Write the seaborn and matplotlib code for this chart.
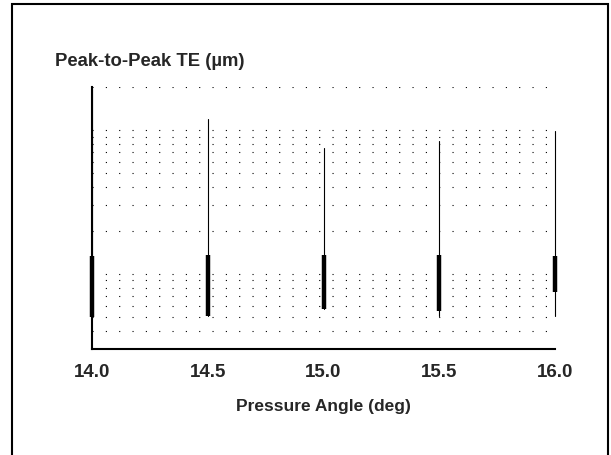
import numpy as np
import pandas as pd
import seaborn as sns
import matplotlib.pyplot as plt
from matplotlib.patches import Rectangle

# Peak-to-peak TE range per pressure angle (log axis)
angles = [14.0, 14.5, 15.0, 15.5, 16.0]
te_min = [0.50, 0.51, 0.57, 0.51, 0.51]
te_max = [19.5, 12.0, 7.5, 8.4, 9.9]
te_box_low = [0.50, 0.51, 0.57, 0.55, 0.75]
te_box_high = [1.33, 1.35, 1.35, 1.35, 1.33]
tick_labels = ["14.0", "14.5", "15.0", "15.5", "16.0"]

sns.set_style("white")
plt.rcParams['font.family'] = ['Liberation Sans', 'DejaVu Sans']

# long-form tables: one row per end of each vertical segment
full_range = pd.DataFrame({
    'angle': angles * 2,
    'te': te_min + te_max,
})
box_range = pd.DataFrame({
    'angle': angles * 2,
    'te': te_box_low + te_box_high,
})

fig = plt.figure(figsize=(6.11, 4.56), dpi=100)
ax = fig.add_axes([92 / 611, 1 - 350 / 456, 463 / 611, 262 / 456])

ax.set_yscale('log')
sns.lineplot(data=full_range, x='angle', y='te', units='angle', estimator=None,
             color='black', lw=0.8, sort=False, ax=ax, legend=False,
             clip_on=False)
sns.lineplot(data=box_range, x='angle', y='te', units='angle', estimator=None,
             color='black', lw=3.2, sort=False, ax=ax, legend=False,
             solid_capstyle='butt', clip_on=False)

ax.set_xlim(14.0, 16.0)
ax.set_ylim(0.3, 20)
ax.set_xticks(angles)
ax.set_xticklabels(tick_labels, fontsize=13.5, fontweight='bold')
ax.tick_params(axis='x', length=0, pad=10)
ax.tick_params(axis='y', which='both', length=0, labelleft=False)
ax.grid(axis='y', which='both', ls=(0, (1, 11)), color='black', lw=0.8)
ax.grid(axis='x', visible=False)
ax.set_ylabel('')
ax.set_xlabel('Pressure Angle (deg)', fontsize=12.5, fontweight='bold', labelpad=13)

sns.despine(ax=ax)
for side in ['left', 'bottom']:
    ax.spines[side].set_linewidth(1.5)
    ax.spines[side].set_color('black')

fig.text(55 / 611, 1 - 62 / 456, 'Peak-to-Peak TE (µm)', fontsize=13.3,
         fontweight='bold', va='center', ha='left')

# frame around the whole figure (open at the bottom edge of the scan)
fig.patches.append(Rectangle((12 / 611, -0.05), 596 / 611, 1.05 - 5 / 456,
                             transform=fig.transFigure, fill=False,
                             edgecolor='black', lw=1.5))

fig.savefig('out.png', dpi=100)
